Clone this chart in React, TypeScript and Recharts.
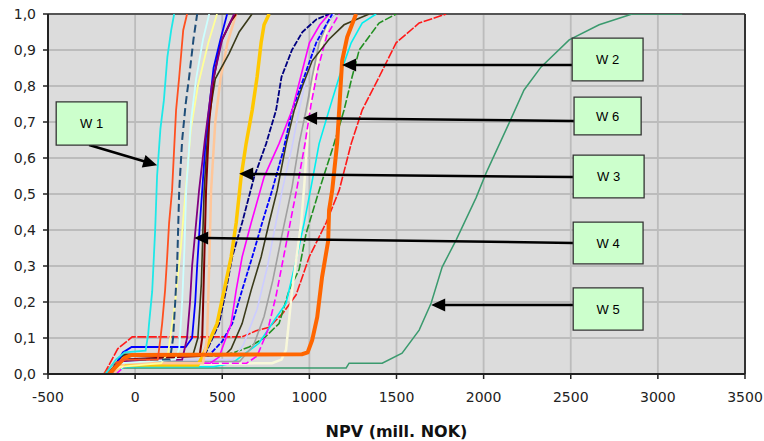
import React from 'react';
import { LineChart, Line, XAxis, YAxis, CartesianGrid, ReferenceArea, ReferenceLine } from 'recharts';

type P = [number, number];

const xTicks = [-500, 0, 500, 1000, 1500, 2000, 2500, 3000, 3500];
const yTicks = [0, 0.1, 0.2, 0.3, 0.4, 0.5, 0.6, 0.7, 0.8, 0.9, 1.0];

// ---- left cluster ----
const cyanW1: P[] = [[-170, 0], [-110, 0.04], [-60, 0.06], [60, 0.065], [75, 0.11], [80, 0.14], [98, 0.23], [115, 0.4], [126, 0.55], [145, 0.68], [165, 0.76], [185, 0.88], [207, 0.955], [224, 1]];
const orangeRed: P[] = [[-180, 0], [-120, 0.03], [-60, 0.04], [130, 0.04], [143, 0.09], [155, 0.14], [172, 0.233], [184, 0.325], [195, 0.42], [212, 0.51], [235, 0.733], [253, 0.825], [276, 0.955], [298, 1]];
const navyDash: P[] = [[-160, 0], [-100, 0.03], [-40, 0.04], [200, 0.04], [218, 0.1], [230, 0.2], [241, 0.3], [253, 0.51], [270, 0.65], [290, 0.75], [310, 0.825], [335, 0.93], [356, 1]];
const lightCyan: P[] = [[-150, 0], [-80, 0.03], [230, 0.04], [253, 0.07], [270, 0.2], [283, 0.35], [293, 0.51], [320, 0.7], [350, 0.82], [390, 0.93], [425, 1]];
const lightYellow: P[] = [[-160, 0], [-90, 0.02], [150, 0.03], [190, 0.06], [230, 0.2], [262, 0.35], [290, 0.51], [320, 0.68], [360, 0.8], [420, 0.92], [470, 1]];
const purple: P[] = [[-150, 0], [-80, 0.035], [270, 0.04], [298, 0.1], [315, 0.2], [327, 0.3], [350, 0.42], [367, 0.51], [400, 0.65], [440, 0.8], [500, 0.93], [568, 1]];
const blueSolid: P[] = [[-140, 0], [-70, 0.06], [-20, 0.075], [290, 0.075], [327, 0.1], [345, 0.2], [356, 0.3], [372, 0.42], [385, 0.51], [405, 0.65], [450, 0.85], [490, 0.93], [528, 1]];
const darkRed: P[] = [[-140, 0], [-70, 0.04], [370, 0.05], [385, 0.1], [396, 0.3], [407, 0.51], [425, 0.7], [450, 0.82], [490, 0.92], [550, 0.98], [580, 1]];
const olive1: P[] = [[-150, 0], [-80, 0.05], [330, 0.05], [360, 0.1], [380, 0.25], [396, 0.51], [420, 0.7], [460, 0.82], [539, 0.89], [597, 0.95], [671, 1]];
const peach: P[] = [[-130, 0], [-60, 0.03], [390, 0.03], [413, 0.1], [425, 0.3], [436, 0.51], [460, 0.7], [490, 0.82], [530, 0.92], [580, 1]];

// ---- middle cluster ----
const gold: P[] = [[-150, 0], [-92, 0.025], [360, 0.025], [385, 0.047], [436, 0.103], [470, 0.14], [511, 0.233], [551, 0.325], [580, 0.42], [608, 0.547], [637, 0.64], [672, 0.733], [700, 0.825], [723, 0.92], [740, 0.97], [769, 1]];
const navyDot: P[] = [[-150, 0], [-80, 0.05], [380, 0.05], [407, 0.06], [482, 0.14], [522, 0.233], [557, 0.325], [614, 0.42], [683, 0.547], [752, 0.64], [809, 0.733], [840, 0.825], [900, 0.9], [960, 0.95], [1040, 0.985], [1113, 1]];
const magenta1: P[] = [[-140, 0], [-70, 0.03], [430, 0.03], [482, 0.047], [551, 0.14], [580, 0.233], [614, 0.325], [666, 0.42], [740, 0.547], [826, 0.64], [901, 0.733], [950, 0.825], [1000, 0.92], [1060, 0.97], [1113, 1]];
const blueDot: P[] = [[-130, 0], [-60, 0.05], [420, 0.05], [499, 0.09], [557, 0.14], [614, 0.233], [672, 0.325], [729, 0.42], [786, 0.51], [850, 0.62], [901, 0.733], [970, 0.825], [1039, 0.92], [1131, 1]];
const olive2: P[] = [[-140, 0], [-70, 0.055], [520, 0.055], [551, 0.07], [614, 0.14], [666, 0.233], [723, 0.325], [769, 0.42], [815, 0.51], [867, 0.64], [913, 0.733], [960, 0.8], [1016, 0.87], [1113, 0.93], [1199, 0.97], [1343, 1]];
const lavender: P[] = [[-120, 0], [-50, 0.04], [560, 0.04], [620, 0.08], [700, 0.18], [760, 0.3], [800, 0.4], [844, 0.51], [900, 0.63], [941, 0.733], [990, 0.84], [1050, 0.94], [1142, 1]];
const grey: P[] = [[-120, 0], [-50, 0.035], [600, 0.035], [680, 0.08], [740, 0.16], [790, 0.26], [840, 0.38], [901, 0.52], [941, 0.64], [981, 0.733], [1016, 0.825], [1056, 0.92], [1100, 0.97], [1142, 1]];
const magenta2: P[] = [[-110, 0], [-40, 0.03], [640, 0.03], [700, 0.05], [760, 0.12], [810, 0.22], [850, 0.32], [890, 0.42], [930, 0.52], [975, 0.64], [1010, 0.75], [1050, 0.85], [1100, 0.94], [1171, 1]];
const ivory: P[] = [[-130, 0], [-60, 0.025], [700, 0.03], [786, 0.03], [840, 0.04], [866, 0.067], [901, 0.233], [953, 0.42], [970, 0.52], [987, 0.64], [999, 0.733], [1027, 0.825], [1073, 0.92], [1131, 1]];
const cyan2: P[] = [[-130, 0], [-60, 0.02], [450, 0.02], [557, 0.03], [640, 0.06], [712, 0.086], [800, 0.15], [866, 0.197], [924, 0.317], [970, 0.42], [1010, 0.52], [1056, 0.64], [1113, 0.733], [1171, 0.825], [1240, 0.92], [1303, 0.975], [1383, 1]];
const orangeThick: P[] = [[-150, 0], [-60, 0.045], [-20, 0.053], [958, 0.055], [990, 0.06], [1016, 0.094], [1045, 0.158], [1073, 0.27], [1108, 0.37], [1113, 0.455], [1131, 0.51], [1159, 0.64], [1171, 0.733], [1188, 0.87], [1217, 0.936], [1268, 1]];
const green: P[] = [[-120, 0], [-50, 0.05], [480, 0.05], [557, 0.058], [654, 0.075], [740, 0.1], [826, 0.14], [884, 0.233], [941, 0.29], [981, 0.39], [1056, 0.51], [1142, 0.64], [1199, 0.733], [1245, 0.825], [1286, 0.9], [1400, 0.975], [1498, 1]];
const red: P[] = [[-178, 0], [-100, 0.07], [-17, 0.103], [614, 0.103], [694, 0.12], [769, 0.13], [850, 0.17], [924, 0.22], [999, 0.325], [1096, 0.42], [1171, 0.51], [1240, 0.64], [1303, 0.733], [1400, 0.825], [1498, 0.92], [1630, 0.975], [1785, 1]];
const seaGreenW5: P[] = [[-150, 0], [-92, 0.017], [1211, 0.017], [1228, 0.03], [1418, 0.03], [1532, 0.058], [1630, 0.122], [1699, 0.197], [1762, 0.297], [1842, 0.372], [1957, 0.49], [2014, 0.558], [2146, 0.697], [2232, 0.789], [2330, 0.853], [2491, 0.928], [2663, 0.97], [2852, 1], [3139, 1]];

// ---- annotations ----
const annLabels = ['W 1', 'W 2', 'W 6', 'W 3', 'W 4', 'W 5'];
const boxX1 = [-453, 2508, 2519, 2514, 2514, 2514];
const boxX2 = [-46, 2915, 2904, 2921, 2915, 2915];
const boxYTop = [0.756, 0.933, 0.769, 0.608, 0.422, 0.239];
const boxYBottom = [0.636, 0.814, 0.664, 0.489, 0.306, 0.122];
const arrowFromX = [-264, 2508, 2519, 2514, 2514, 2514];
const arrowFromY = [0.636, 0.858, 0.703, 0.547, 0.364, 0.192];
const arrowToX = [126, 1188, 964, 597, 339, 1699];
const arrowToY = [0.58, 0.858, 0.711, 0.556, 0.378, 0.192];

const series = [
  { key: 'red', pts: red, color: '#FF1A1A', w: 1.6, dash: '9 1.5' },
  { key: 'seaGreenW5', pts: seaGreenW5, color: '#3A9A6E', w: 1.5 },
  { key: 'green', pts: green, color: '#229022', w: 1.6, dash: '8 2' },
  { key: 'cyan2', pts: cyan2, color: '#00F0F0', w: 1.6 },
  { key: 'ivory', pts: ivory, color: '#F8F8DA', w: 2.5 },
  { key: 'magenta2', pts: magenta2, color: '#FF00FF', w: 1.6, dash: '7 3' },
  { key: 'grey', pts: grey, color: '#A0A0A0', w: 1.6 },
  { key: 'lavender', pts: lavender, color: '#CCCCFF', w: 1.6 },
  { key: 'olive2', pts: olive2, color: '#3A3A1A', w: 1.6 },
  { key: 'blueDot', pts: blueDot, color: '#0000FF', w: 1.8, dash: '5 1.5' },
  { key: 'magenta1', pts: magenta1, color: '#FF00FF', w: 1.6 },
  { key: 'navyDot', pts: navyDot, color: '#000080', w: 1.8, dash: '6 1.5' },
  { key: 'gold', pts: gold, color: '#FFC800', w: 3.5 },
  { key: 'peach', pts: peach, color: '#FFC699', w: 2.5 },
  { key: 'olive1', pts: olive1, color: '#3A3A1A', w: 1.6 },
  { key: 'darkRed', pts: darkRed, color: '#800000', w: 2 },
  { key: 'blueSolid', pts: blueSolid, color: '#0000FF', w: 1.8 },
  { key: 'purple', pts: purple, color: '#800080', w: 1.8 },
  { key: 'lightYellow', pts: lightYellow, color: '#FFFF99', w: 1.8 },
  { key: 'lightCyan', pts: lightCyan, color: '#CCFFFF', w: 1.8 },
  { key: 'navyDash', pts: navyDash, color: '#1F4E79', w: 2, dash: '8 4' },
  { key: 'orangeThick', pts: orangeThick, color: '#FF6600', w: 4 },
  { key: 'orangeRed', pts: orangeRed, color: '#FF5020', w: 1.8 },
  { key: 'cyanW1', pts: cyanW1, color: '#1EE8E8', w: 1.8 },
];

const Arrow = (props: any) => {
  const { x1, y1, x2, y2 } = props;
  if ([x1, y1, x2, y2].some((v) => typeof v !== 'number' || isNaN(v))) return null;
  const dx = x2 - x1;
  const dy = y2 - y1;
  const len = Math.hypot(dx, dy) || 1;
  const ux = dx / len;
  const uy = dy / len;
  const hl = 14;
  const hw = 6.5;
  const bx = x2 - ux * hl;
  const by = y2 - uy * hl;
  const px = -uy;
  const py = ux;
  return (
    <g>
      <line x1={x1} y1={y1} x2={bx + ux * 2} y2={by + uy * 2} stroke="#000" strokeWidth={2.5} />
      <polygon points={`${x2},${y2} ${bx + px * hw},${by + py * hw} ${bx - px * hw},${by - py * hw}`} fill="#000" />
    </g>
  );
};

const tickStyle = { fontSize: 14, fill: '#222', fontFamily: 'DejaVu Sans' };

export default function App() {
  return (
    <div style={{ position: 'absolute', left: 0, top: 0, width: 764, height: 441, background: '#fff' }}>
      <LineChart width={764} height={441} margin={{ top: 14, right: 19, bottom: 0, left: 0 }}>
        <CartesianGrid stroke="#BCBCBC" strokeWidth={1.8} fill="#DCDCDC" fillOpacity={1} />
        <XAxis
          dataKey="x"
          type="number"
          domain={[-500, 3500]}
          ticks={xTicks}
          allowDataOverflow
          height={67}
          tick={tickStyle}
          tickSize={5}
          tickMargin={13}
          axisLine={{ stroke: '#222', strokeWidth: 2 }}
          tickLine={{ stroke: '#222', strokeWidth: 1.5 }}
          label={{ value: 'NPV (mill. NOK)', position: 'insideBottom', offset: 4, style: { fontSize: 16, fontWeight: 'bold', fill: '#111', fontFamily: 'DejaVu Sans' } }}
        />
        <YAxis
          type="number"
          domain={[0, 1]}
          ticks={yTicks}
          width={48}
          allowDataOverflow
          tick={tickStyle}
          tickSize={5}
          tickMargin={7}
          tickFormatter={(v: number) => v.toFixed(1).replace('.', ',')}
          axisLine={{ stroke: '#222', strokeWidth: 2 }}
          tickLine={{ stroke: '#222', strokeWidth: 1.5 }}
        />
        <ReferenceLine y={1} stroke="#555" strokeWidth={2} />
        <ReferenceLine x={3500} stroke="#333" strokeWidth={2} />
        {series.map((s) => (
          <Line
            key={s.key}
            data={s.pts.map(([x, y]) => ({ x, y }))}
            dataKey="y"
            type="linear"
            stroke={s.color}
            strokeWidth={s.w}
            strokeDasharray={s.dash}
            dot={false}
            activeDot={false}
            isAnimationActive={false}
          />
        ))}
        {annLabels.map((lab, i) => (
          <ReferenceLine
            key={'arr' + i}
            segment={[{ x: arrowFromX[i], y: arrowFromY[i] }, { x: arrowToX[i], y: arrowToY[i] }]}
            shape={Arrow}
            zIndex={1000}
          />
        ))}
        {annLabels.map((lab, i) => (
          <ReferenceArea
            key={'box' + i}
            x1={boxX1[i]}
            x2={boxX2[i]}
            y1={boxYBottom[i]}
            y2={boxYTop[i]}
            fill="#CCFFCC"
            fillOpacity={1}
            stroke="#333"
            strokeWidth={1.3}
            zIndex={1000}
            label={{ value: lab, position: 'center', fontSize: 13, fill: '#000', fontFamily: 'Liberation Sans' }}
          />
        ))}
      </LineChart>
    </div>
  );
}
